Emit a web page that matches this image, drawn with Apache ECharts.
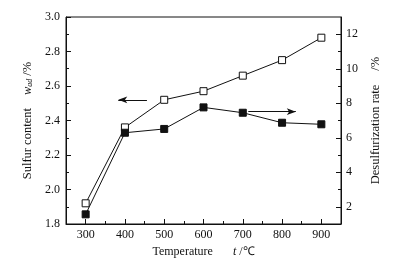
<!DOCTYPE html>
<html><head><meta charset="utf-8">
<script src="https://cdn.jsdelivr.net/npm/echarts@6/dist/echarts.min.js"></script>
<style>html,body{margin:0;padding:0;background:#fff}#c{width:399px;height:265px}</style>
</head><body><div id="c"></div>
<script>
var temps = [300, 400, 500, 600, 700, 800, 900];
var sulfurContent = [1.92, 2.36, 2.52, 2.57, 2.66, 2.75, 2.88];
var desulfRate = [1.56, 6.29, 6.51, 7.76, 7.45, 6.87, 6.78];
var xMajor = [300, 400, 500, 600, 700, 800, 900];
var xMinor = [350, 450, 550, 650, 750, 850];
var rMajor = [2, 4, 6, 8, 10, 12];
var rMinor = [3, 5, 7, 9, 11];
var leftArrow = [[456, 2.52], [383, 2.52]];
var rightArrow = [[714, 7.51], [835, 7.51]];

var FONT = '"Liberation Serif","Times New Roman",serif';
var C = '#111';
function pair(a, b) { return a.map(function (v, i) { return [v, b[i]]; }); }

var chart = echarts.init(document.getElementById('c'), null, {renderer: 'canvas'});
var baseAxis = {
  axisLine: {show: true, lineStyle: {color: C, width: 1}},
  splitLine: {show: false},
  axisLabel: {color: C, fontFamily: FONT, fontSize: 12},
  nameTextStyle: {color: C, fontFamily: FONT, fontSize: 12}
};
chart.setOption({
  animation: false,
  backgroundColor: '#fff',
  grid: {left: 66, right: 58, top: 17, bottom: 41, show: true, borderColor: C, borderWidth: 1, backgroundColor: 'transparent'},
  xAxis: [
    Object.assign({}, baseAxis, {
      type: 'value', min: 250, max: 950, position: 'bottom',
      axisTick: {show: true, inside: true, length: 5, customValues: xMajor, lineStyle: {color: C}},
      axisLabel: Object.assign({}, baseAxis.axisLabel, {customValues: xMajor, margin: 5}),
      name: '{a|Temperature}{t|t}{b| /℃}', nameLocation: 'middle', nameGap: 12,
      nameTextStyle: {color: C, fontFamily: FONT, fontSize: 12, rich: {
        a: {fontFamily: FONT, fontSize: 12, color: C, padding: [0, 20, 0, 0]},
        t: {fontFamily: FONT, fontSize: 12, color: C, fontStyle: 'italic'},
        b: {fontFamily: FONT, fontSize: 12, color: C}
      }}
    }),
    Object.assign({}, baseAxis, {
      type: 'value', min: 250, max: 950, position: 'bottom',
      axisLine: {show: false},
      axisTick: {show: true, inside: true, length: 3, customValues: xMinor, lineStyle: {color: C}},
      axisLabel: {show: false}
    })
  ],
  yAxis: [
    Object.assign({}, baseAxis, {
      type: 'value', min: 1.8, max: 3.0, interval: 0.2, position: 'left',
      axisTick: {show: true, inside: true, length: 5, lineStyle: {color: C}},
      minorTick: {show: true, splitNumber: 2, length: 3, lineStyle: {color: C}},
      axisLabel: Object.assign({}, baseAxis.axisLabel, {margin: 6, formatter: function (v) { return v.toFixed(1); }}),
      name: '{a|Sulfur content}{w|w}{s|ad}{b| /%}', nameLocation: 'middle', nameGap: 30, nameRotate: 90,
      nameTextStyle: {color: C, fontFamily: FONT, fontSize: 12.5, rich: {
        a: {fontFamily: FONT, fontSize: 12.5, color: C, padding: [0, 13, 0, 0]},
        w: {fontFamily: FONT, fontSize: 12.5, color: C, fontStyle: 'italic'},
        s: {fontFamily: FONT, fontSize: 8, color: C, fontStyle: 'italic', verticalAlign: 'bottom', padding: [5, 0, 0, 0]},
        b: {fontFamily: FONT, fontSize: 12.5, color: C}
      }}
    }),
    Object.assign({}, baseAxis, {
      type: 'value', min: 1, max: 13, position: 'right',
      axisTick: {show: true, inside: true, length: 5, customValues: rMajor, lineStyle: {color: C}},
      axisLabel: Object.assign({}, baseAxis.axisLabel, {customValues: rMajor, margin: 5}),
      name: '{a|Desulfurization rate}{b|/%}', nameLocation: 'middle', nameGap: 23, nameRotate: 90,
      nameTextStyle: {color: C, fontFamily: FONT, fontSize: 12.5, rich: {
        a: {fontFamily: FONT, fontSize: 12.5, color: C, padding: [0, 14, 0, 0]},
        b: {fontFamily: FONT, fontSize: 12.5, color: C}
      }}
    }),
    Object.assign({}, baseAxis, {
      type: 'value', min: 1, max: 13, position: 'right',
      axisLine: {show: false},
      axisTick: {show: true, inside: true, length: 3, customValues: rMinor, lineStyle: {color: C}},
      axisLabel: {show: false}
    })
  ],
  series: [
    {
      type: 'line', xAxisIndex: 0, yAxisIndex: 0, data: pair(temps, sulfurContent),
      symbol: 'rect', symbolSize: 7, showSymbol: true,
      lineStyle: {color: C, width: 1},
      itemStyle: {color: '#fff', borderColor: C, borderWidth: 1},
      emphasis: {disabled: true}, z: 3,
      markLine: {
        silent: true, symbol: ['none', 'arrow'], symbolSize: [5, 9],
        label: {show: false}, lineStyle: {color: C, width: 1, type: 'solid'},
        data: [[{coord: leftArrow[0]}, {coord: leftArrow[1]}]]
      }
    },
    {
      type: 'line', xAxisIndex: 0, yAxisIndex: 1, data: pair(temps, desulfRate),
      symbol: 'rect', symbolSize: 7, showSymbol: true,
      lineStyle: {color: C, width: 1},
      itemStyle: {color: C, borderColor: C, borderWidth: 1},
      emphasis: {disabled: true}, z: 3,
      markLine: {
        silent: true, symbol: ['none', 'arrow'], symbolSize: [5, 9],
        label: {show: false}, lineStyle: {color: C, width: 1, type: 'solid'},
        data: [[{coord: rightArrow[0]}, {coord: rightArrow[1]}]]
      }
    }
  ]
});
</script>
</body></html>
